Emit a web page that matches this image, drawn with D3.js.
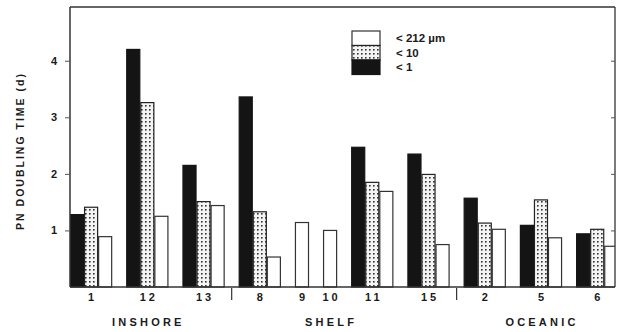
<!DOCTYPE html>
<html><head><meta charset="utf-8">
<script src="https://cdn.jsdelivr.net/npm/d3@7"></script>
<style>
html,body{margin:0;padding:0;background:#fff;}
text{font-family:"Liberation Sans",Arial,sans-serif;fill:#1a1a1a;}
</style></head>
<body><svg id="c" width="624" height="332"></svg>
<script>
const stations = ["1","12","13","8","9","10","11","15","2","5","6"];
const stationRegion = ["INSHORE","INSHORE","INSHORE","SHELF","SHELF","SHELF","SHELF","SHELF","OCEANIC","OCEANIC","OCEANIC"];
const regions = ["INSHORE","SHELF","OCEANIC"];
const seriesNames = ["< 1", "< 10", "< 212 µm"];
const lt1   = [1.28, 4.20, 2.15, 3.36, null, null, 2.47, 2.35, 1.57, 1.09, 0.94];
const lt10  = [1.41, 3.26, 1.51, 1.33, null, null, 1.85, 1.99, 1.13, 1.54, 1.02];
const lt212 = [0.89, 1.25, 1.44, 0.53, 1.14, 1.00, 1.69, 0.75, 1.02, 0.87, 0.72];
const yTicks = [1,2,3,4];

const svg = d3.select("#c");
const L = 70, R = 615, T = 7, B = 287;

const series = [lt1, lt10, lt212];
const slots = [];
const bars = [];
const stationSlots = [];
stations.forEach((s, i) => {
  const mine = [];
  series.forEach((arr, k) => {
    if (arr[i] != null) {
      const id = s + "_" + k;
      slots.push(id); mine.push(id);
      bars.push({station: s, idx: i, k: k, v: arr[i], id: id});
    }
  });
  stationSlots.push(mine);
  if (i < stations.length - 1) slots.push("gap_" + i);
});

const x = d3.scaleBand().domain(slots).range([L, 618.3]).padding(0);
const y = d3.scaleLinear().domain([0, 4.95]).range([B, T]);

const defs = svg.append("defs");
const pat = defs.append("pattern").attr("id","dots").attr("patternUnits","userSpaceOnUse")
  .attr("width",4).attr("height",4);
pat.append("rect").attr("width",4).attr("height",4).attr("fill","#f4f4f4");
pat.append("rect").attr("x",1).attr("y",1).attr("width",1.6).attr("height",1.6).attr("fill","#333");
defs.append("clipPath").attr("id","clip").append("rect")
  .attr("x",L).attr("y",T).attr("width",R-L).attr("height",B-T+2);

const fills = ["#141414","url(#dots)","#fff"];
const strokes = ["#141414","#222","#333"];

const g = svg.append("g").attr("clip-path","url(#clip)");
g.selectAll("rect.bar").data(bars).join("rect")
  .attr("class","bar")
  .attr("x", d => x(d.id) + 0.5)
  .attr("width", x.bandwidth() - 1)
  .attr("y", d => y(d.v))
  .attr("height", d => y(0) - y(d.v))
  .attr("fill", d => fills[d.k])
  .attr("stroke", d => strokes[d.k])
  .attr("stroke-width", 1.2);

svg.append("line").attr("x1",L).attr("x2",R).attr("y1",T).attr("y2",T).attr("stroke","#333").attr("stroke-width",1.3);
svg.append("line").attr("x1",R).attr("x2",R).attr("y1",T).attr("y2",B).attr("stroke","#333").attr("stroke-width",1.3);

const ya = svg.append("g").attr("transform",`translate(${L},0)`)
  .call(d3.axisLeft(y).tickValues(yTicks).tickSize(5).tickPadding(8).tickFormat(d3.format("d")));
ya.select(".domain").attr("stroke","#333").attr("stroke-width",1.5).attr("d",`M0,${T}V${B}`);
ya.selectAll(".tick line").attr("stroke","#555");
ya.selectAll(".tick text").attr("font-size",11).attr("font-weight","bold").style("font-family","Liberation Sans, Arial, sans-serif").attr("fill","#222");

const yr = svg.append("g").attr("transform",`translate(${R},0)`)
  .call(d3.axisRight(y).tickValues(yTicks).tickSize(-4).tickFormat(""));
yr.select(".domain").remove();
yr.selectAll(".tick line").attr("stroke","#555");

svg.append("line").attr("x1",L).attr("x2",R).attr("y1",B).attr("y2",B).attr("stroke","#333").attr("stroke-width",1.5);

const stationCenter = i => {
  const ids = stationSlots[i];
  return (x(ids[0]) + x(ids[ids.length-1]) + x.bandwidth()) / 2;
};
svg.selectAll("text.st").data(stations).join("text").attr("class","st")
  .attr("x",(d,i)=>stationCenter(i)+1.5).attr("y",301)
  .attr("text-anchor","middle").attr("font-size",11).attr("font-weight","bold")
  .attr("letter-spacing",3).text(d=>d);

stations.forEach((s,i)=>{
  if (i>0 && stationRegion[i]!==stationRegion[i-1]) {
    const gx = x("gap_"+(i-1)) + x.bandwidth()/2;
    svg.append("line").attr("x1",gx).attr("x2",gx).attr("y1",B+1).attr("y2",300)
      .attr("stroke","#333").attr("stroke-width",1.2);
  }
});

regions.forEach(r=>{
  const idxs = stationRegion.map((v,i)=>v===r?i:-1).filter(i=>i>=0);
  const mid = idxs[Math.floor(idxs.length/2)];
  svg.append("text").attr("x",stationCenter(mid)+1).attr("y",326)
    .attr("text-anchor","middle").attr("font-size",11).attr("font-weight","bold")
    .attr("letter-spacing",3.2).text(r);
});

svg.append("text").attr("transform","translate(24,151) rotate(-90)")
  .attr("text-anchor","middle").attr("font-size",10.5).attr("font-weight","bold")
  .attr("letter-spacing",2).text("PN DOUBLING TIME (d)");

const lg = svg.append("g");
const order = [2,1,0];
const rowH = 14.5;
order.forEach((k,j)=>{
  lg.append("rect").attr("x",352).attr("y",31+j*rowH).attr("width",28).attr("height",rowH)
    .attr("fill",fills[k]).attr("stroke",strokes[k]).attr("stroke-width",1.2);
  lg.append("text").attr("x",396).attr("y",31+j*rowH+rowH/2+4)
    .attr("font-size",11.5).attr("font-weight","bold").text(seriesNames[k]);
});
</script></body></html>
